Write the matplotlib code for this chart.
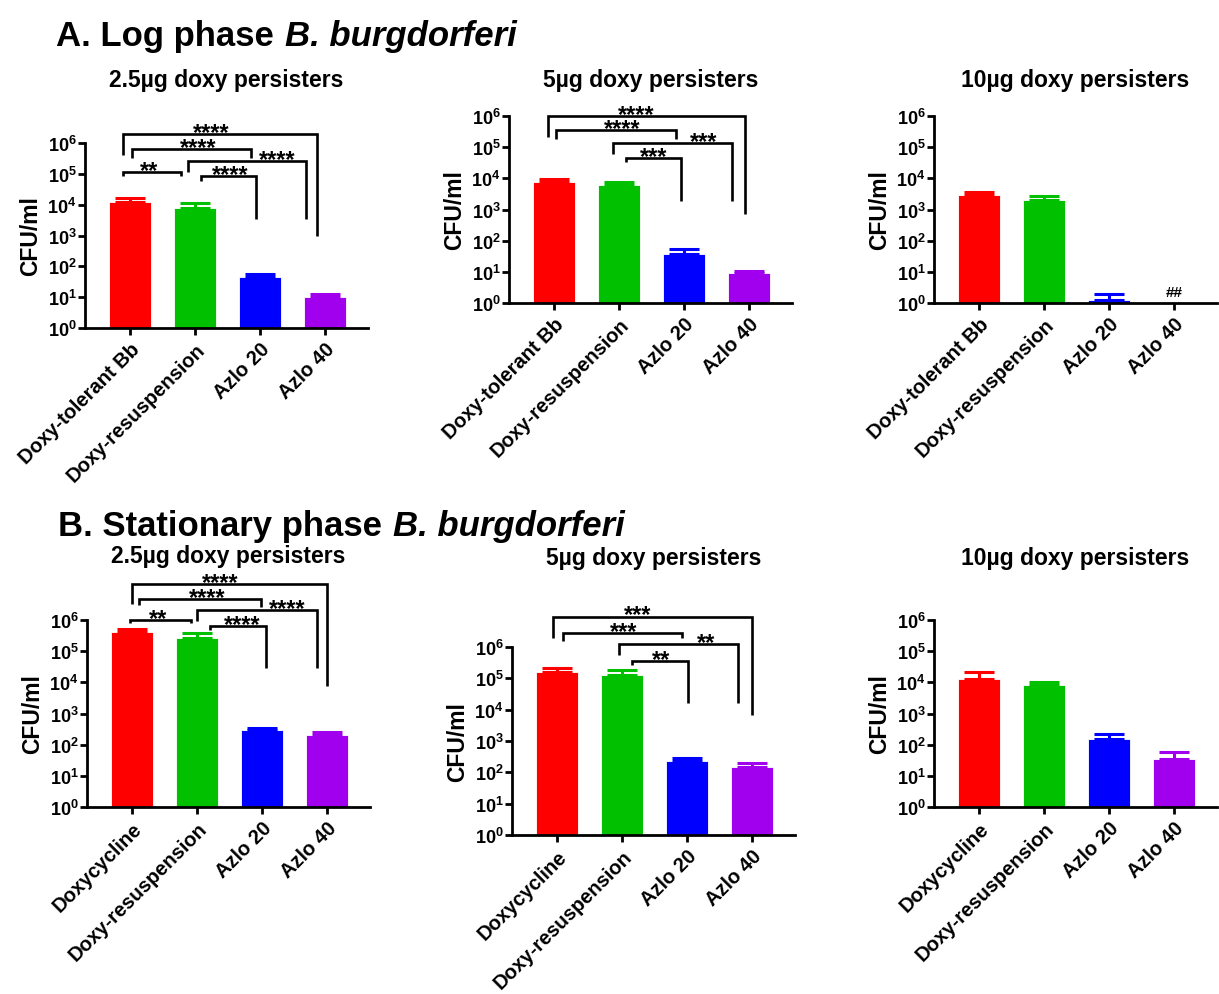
import numpy as np
import matplotlib
matplotlib.use("Agg")
import matplotlib.pyplot as plt
from matplotlib.ticker import FixedLocator, NullLocator

# ---------------- data ----------------
cats_log = ["Doxy-tolerant Bb", "Doxy-resuspension", "Azlo 20", "Azlo 40"]
cats_stat = ["Doxycycline", "Doxy-resuspension", "Azlo 20", "Azlo 40"]

log_25_mean = [1.2e4, 8.0e3, 45, 10.5]
log_25_err = [4.0e3, 3.0e3, 11, 2.5]
log_5_mean = [7.9e3, 5.9e3, 38, 9.0]
log_5_err = [1.8e3, 1.7e3, 17, 1.5]
log_10_mean = [3.0e3, 2.05e3, 1.28, 0]
log_10_err = [0.6e3, 0.65e3, 0.67, 0]

stat_25_mean = [4.1e5, 2.7e5, 294, 202]
stat_25_err = [1.1e5, 1.15e5, 37, 56]
stat_5_mean = [1.65e5, 1.3e5, 226, 152]
stat_5_err = [0.45e5, 0.6e5, 57, 43]
stat_10_mean = [1.3e4, 8.1e3, 155, 34]
stat_10_err = [0.8e4, 2.1e3, 71, 24]

# significance brackets: (x_left, x_right, bar_decade, left_leg_end, right_leg_end, label, label_x)
br_log_25 = [
    (-0.12, 0.78, 5.05, 4.93, 4.93, "**", 0.29),
    (0.03, 1.86, 5.79, 5.50, 5.50, "****", 1.04),
    (-0.11, 2.88, 6.30, 5.60, 3.00, "****", 1.25),
    (0.89, 2.71, 5.41, 5.07, 3.54, "****", 2.26),
    (1.09, 1.94, 4.92, 4.78, 3.54, "****", 1.54),
]
br_log_5 = [
    (-0.10, 2.94, 6.00, 5.33, 2.86, "****", 1.27),
    (0.03, 1.88, 5.54, 5.27, 5.25, "****", 1.04),
    (0.90, 2.74, 5.13, 4.79, 3.26, "***", 2.30),
    (1.10, 1.96, 4.65, 4.52, 3.26, "***", 1.53),
]
br_stat_25 = [
    (0.00, 3.01, 7.16, 6.52, 3.89, "****", 1.36),
    (0.11, 1.99, 6.68, 6.48, 6.41, "****", 1.15),
    (-0.04, 0.90, 6.00, 5.90, 5.90, "**", 0.40),
    (0.99, 2.85, 6.33, 5.98, 4.45, "****", 2.39),
    (1.20, 2.06, 5.80, 5.69, 4.45, "****", 1.69),
]
br_stat_5 = [
    (-0.06, 3.00, 6.97, 6.28, 3.83, "***", 1.24),
    (0.08, 1.93, 6.44, 6.20, 6.30, "***", 1.02),
    (0.95, 2.79, 6.08, 5.75, 4.20, "**", 2.29),
    (1.15, 2.01, 5.54, 5.43, 4.20, "**", 1.60),
]

COLORS = ["#FF0000", "#00C000", "#0000FF", "#A000EE"]

plt.rcParams.update({
    "font.family": ["Liberation Sans", "DejaVu Sans"],
    "font.weight": "bold",
    "axes.labelweight": "bold",
    "mathtext.fontset": "custom",
    "mathtext.rm": "Liberation Sans:bold",
    "mathtext.bf": "Liberation Sans:bold",
    "mathtext.it": "Liberation Sans:bold:italic",
    "axes.linewidth": 2,
})

W, H = 1219, 995
fig = plt.figure(figsize=(W / 100, H / 100), dpi=100)


def rect(l, r, t, b):
    return [l / W, 1 - b / H, (r - l) / W, (b - t) / H]


XL = (-0.7, 3.67)
SP = 64.8  # px per category


def panel(left, top, bottom, cats, means, errs, title, title_y, brackets=(), nd_label=None):
    right = left + SP * (XL[1] - XL[0])
    ax = fig.add_axes(rect(left, right, top, bottom))
    x = np.arange(len(cats))
    m = np.array(means, float)
    e = np.array(errs, float)
    mp = np.where(m > 0, m, np.nan)
    ax.set_yscale("log")
    ax.bar(x, mp, width=0.65, color=COLORS, edgecolor="white", linewidth=0.6, zorder=2)
    for i in range(len(x)):
        if m[i] > 0:
            ax.errorbar(x[i], m[i], yerr=[[0], [e[i]]], fmt="none", ecolor=COLORS[i],
                        elinewidth=2.2, capsize=11, capthick=2.2, zorder=3)
    ax.set_ylim(1, 1e6)
    ax.set_xlim(*XL)
    for s in ["top", "right"]:
        ax.spines[s].set_visible(False)
    ax.yaxis.set_major_locator(FixedLocator([10.0 ** k for k in range(7)]))
    ax.yaxis.set_minor_locator(NullLocator())
    ax.set_yticklabels([r"$10^{%d}$" % k for k in range(7)])
    ax.set_xticks(x)
    ax.set_xticklabels(cats, rotation=45, ha="right", rotation_mode="anchor", fontsize=14.5)
    ax.tick_params(axis="y", width=2, length=5, labelsize=13, pad=1)
    ax.tick_params(axis="x", width=2, length=5, pad=3)
    ax.set_ylabel("CFU/ml", fontsize=16.5, labelpad=4)
    for (xl, xr, yb, yle, yre, lab, lx) in brackets:
        ax.plot([xl, xl, xr, xr], [10 ** yle, 10 ** yb, 10 ** yb, 10 ** yre], color="black",
                lw=1.9, clip_on=False, solid_joinstyle="miter", solid_capstyle="butt", zorder=4)
        ax.annotate(lab, (lx, 10 ** yb), xytext=(0, -3.5), textcoords="offset points",
                    ha="center", va="baseline", fontsize=17, annotation_clip=False)
    if nd_label is not None:
        ax.text(3, 10 ** 0.35, nd_label, ha="center", va="center", fontsize=11)
    cx = (left + right) / 2
    fig.text(cx / W, 1 - title_y / H, title, ha="center", va="center", fontsize=16.5)
    return ax


panel(85, 144, 329, cats_log, log_25_mean, log_25_err, "2.5\u00b5g doxy persisters", 80, br_log_25)
panel(509, 117, 304, cats_log, log_5_mean, log_5_err, "5\u00b5g doxy persisters", 81, br_log_5)
panel(934, 117, 304, cats_log, log_10_mean, log_10_err, "10\u00b5g doxy persisters", 80, nd_label="##")
panel(87, 621, 808, cats_stat, stat_25_mean, stat_25_err, "2.5\u00b5g doxy persisters", 557, br_stat_25)
panel(512, 648, 836, cats_stat, stat_5_mean, stat_5_err, "5\u00b5g doxy persisters", 558, br_stat_5)
panel(934, 621, 808, cats_stat, stat_10_mean, stat_10_err, "10\u00b5g doxy persisters", 558)

# section headers
HFS = 25
renderer = fig.canvas.get_renderer()


def header(x0, base_y, plain, ital):
    t1 = fig.text(x0 / W, 1 - base_y / H, plain, fontsize=HFS, va="baseline")
    bb = t1.get_window_extent(renderer=renderer)
    fig.text((bb.x1 + 11) / W, 1 - base_y / H, ital, fontsize=HFS,
             style="italic", va="baseline")


header(56, 46, "A. Log phase", "B. burgdorferi")
header(58, 536, "B. Stationary phase", "B. burgdorferi")

fig.savefig("out.png", dpi=100)
